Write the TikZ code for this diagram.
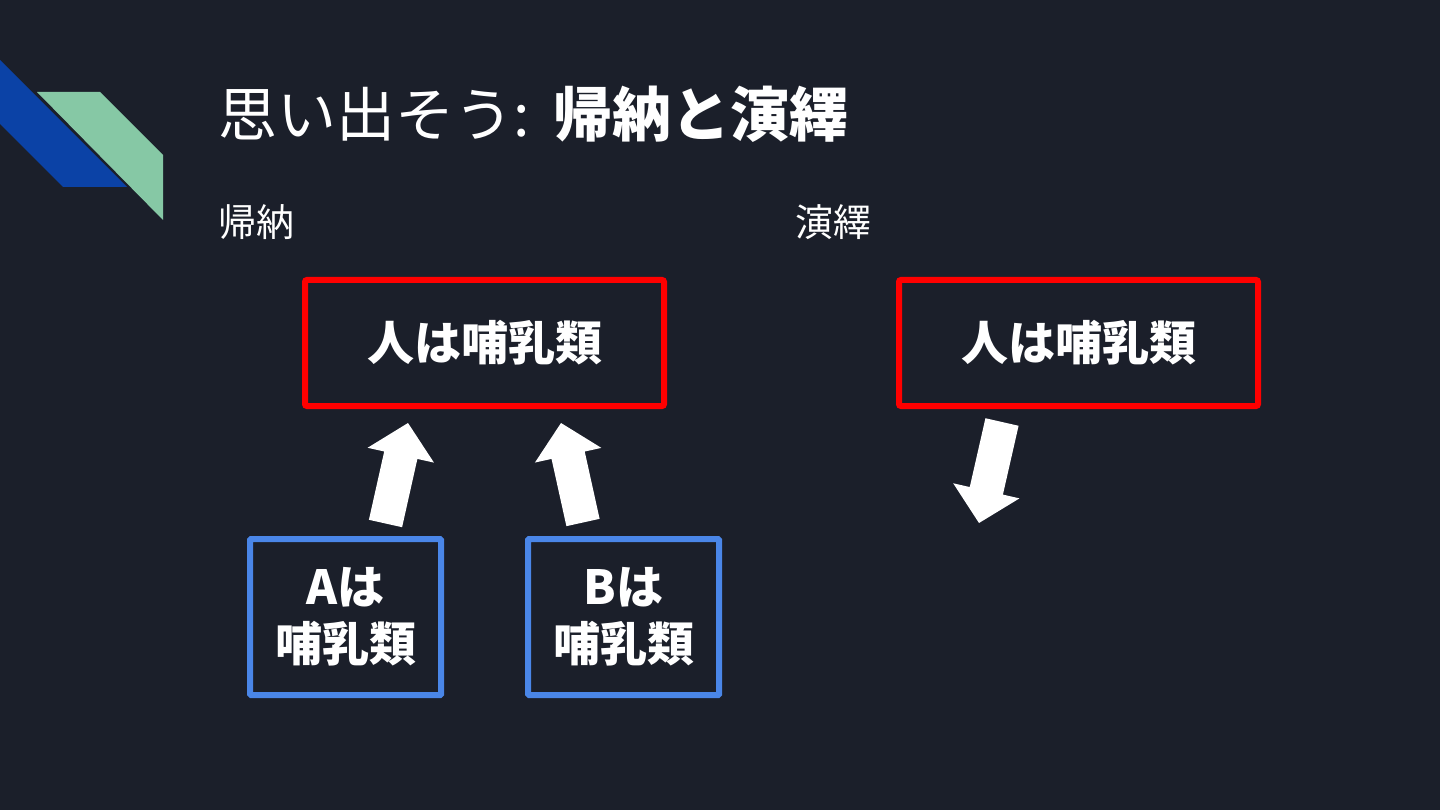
\documentclass[tikz,border=0pt]{standalone}
\usepackage{fontspec}
\setmainfont{Noto Sans CJK JP}
\usetikzlibrary{positioning,calc}
\definecolor{slidebg}{HTML}{1B1F2A}
\definecolor{ruby}{HTML}{FF0000}
\definecolor{sky}{HTML}{4A86E8}
\definecolor{ribbonblue}{HTML}{0B42A6}
\definecolor{ribbongreen}{HTML}{86C8A5}

% fat block arrow from #1 (foot) to #2 (tip)
\newcommand{\fatarrow}[2]{%
  \coordinate (hb) at ($(#2)!33pt!(#1)$);
  \fill[white] ($(#1)!17pt!90:(#2)$) -- ($(hb)!17pt!90:(#2)$) -- ($(hb)!34pt!90:(#2)$)
    -- (#2) -- ($(hb)!34pt!-90:(#2)$) -- ($(hb)!17pt!-90:(#2)$) -- ($(#1)!17pt!-90:(#2)$) -- cycle;
}

\begin{document}
\begin{tikzpicture}[x=1pt,y=-1pt,
    heading/.style={anchor=west,inner sep=0pt,text=white,font=\fontsize{59}{70}\selectfont},
    sub/.style={anchor=west,inner sep=0pt,text=white,font=\fontsize{38}{46}\selectfont},
    claim/.style={draw=ruby,line width=6pt,rounded corners=2pt,minimum width=359pt,minimum height=126pt,
      text=white,font=\fontsize{47}{57}\selectfont\bfseries},
    case/.style={draw=sky,line width=6pt,rounded corners=1pt,minimum width=191pt,minimum height=156pt,
      align=center,text=white,font=\fontsize{47}{57}\selectfont\bfseries}]

  \fill[slidebg] (0,0) rectangle (1440,810);
  \useasboundingbox (0,0) rectangle (1440,810);

  % corner ribbon
  \fill[ribbonblue] (0,60) -- (127,187) -- (63,187) -- (0,124) -- cycle;
  \fill[ribbongreen] (37,92) -- (100,92) -- (163,155) -- (163,220) -- cycle;

  \node[heading] (title) at (218,114) {思い出そう:\hspace{24pt}\textbf{帰納と演繹}};
  \node[sub] (induct) at (218,222) {帰納};
  \node[sub] (deduct) at (795,222) {演繹};

  \node[claim] (ruleL) at (484.5,343) {人は哺乳類};
  \node[claim,right=229pt of ruleL] (ruleR) {人は哺乳類};
  \node[case] (caseA) at (345.5,617) {Aは\\哺乳類};
  \node[case,right=81pt of caseA] (caseB) {Bは\\哺乳類};

  \coordinate (footA) at (385.5,523.5);
  \coordinate (tipA) at (408,423);
  \coordinate (footB) at (583,522.5);
  \coordinate (tipB) at (561,423);
  \coordinate (footD) at (1002,422);
  \coordinate (tipD) at (979,523);

  \fatarrow{footA}{tipA}
  \fatarrow{footB}{tipB}
  \fatarrow{footD}{tipD}
\end{tikzpicture}
\end{document}
